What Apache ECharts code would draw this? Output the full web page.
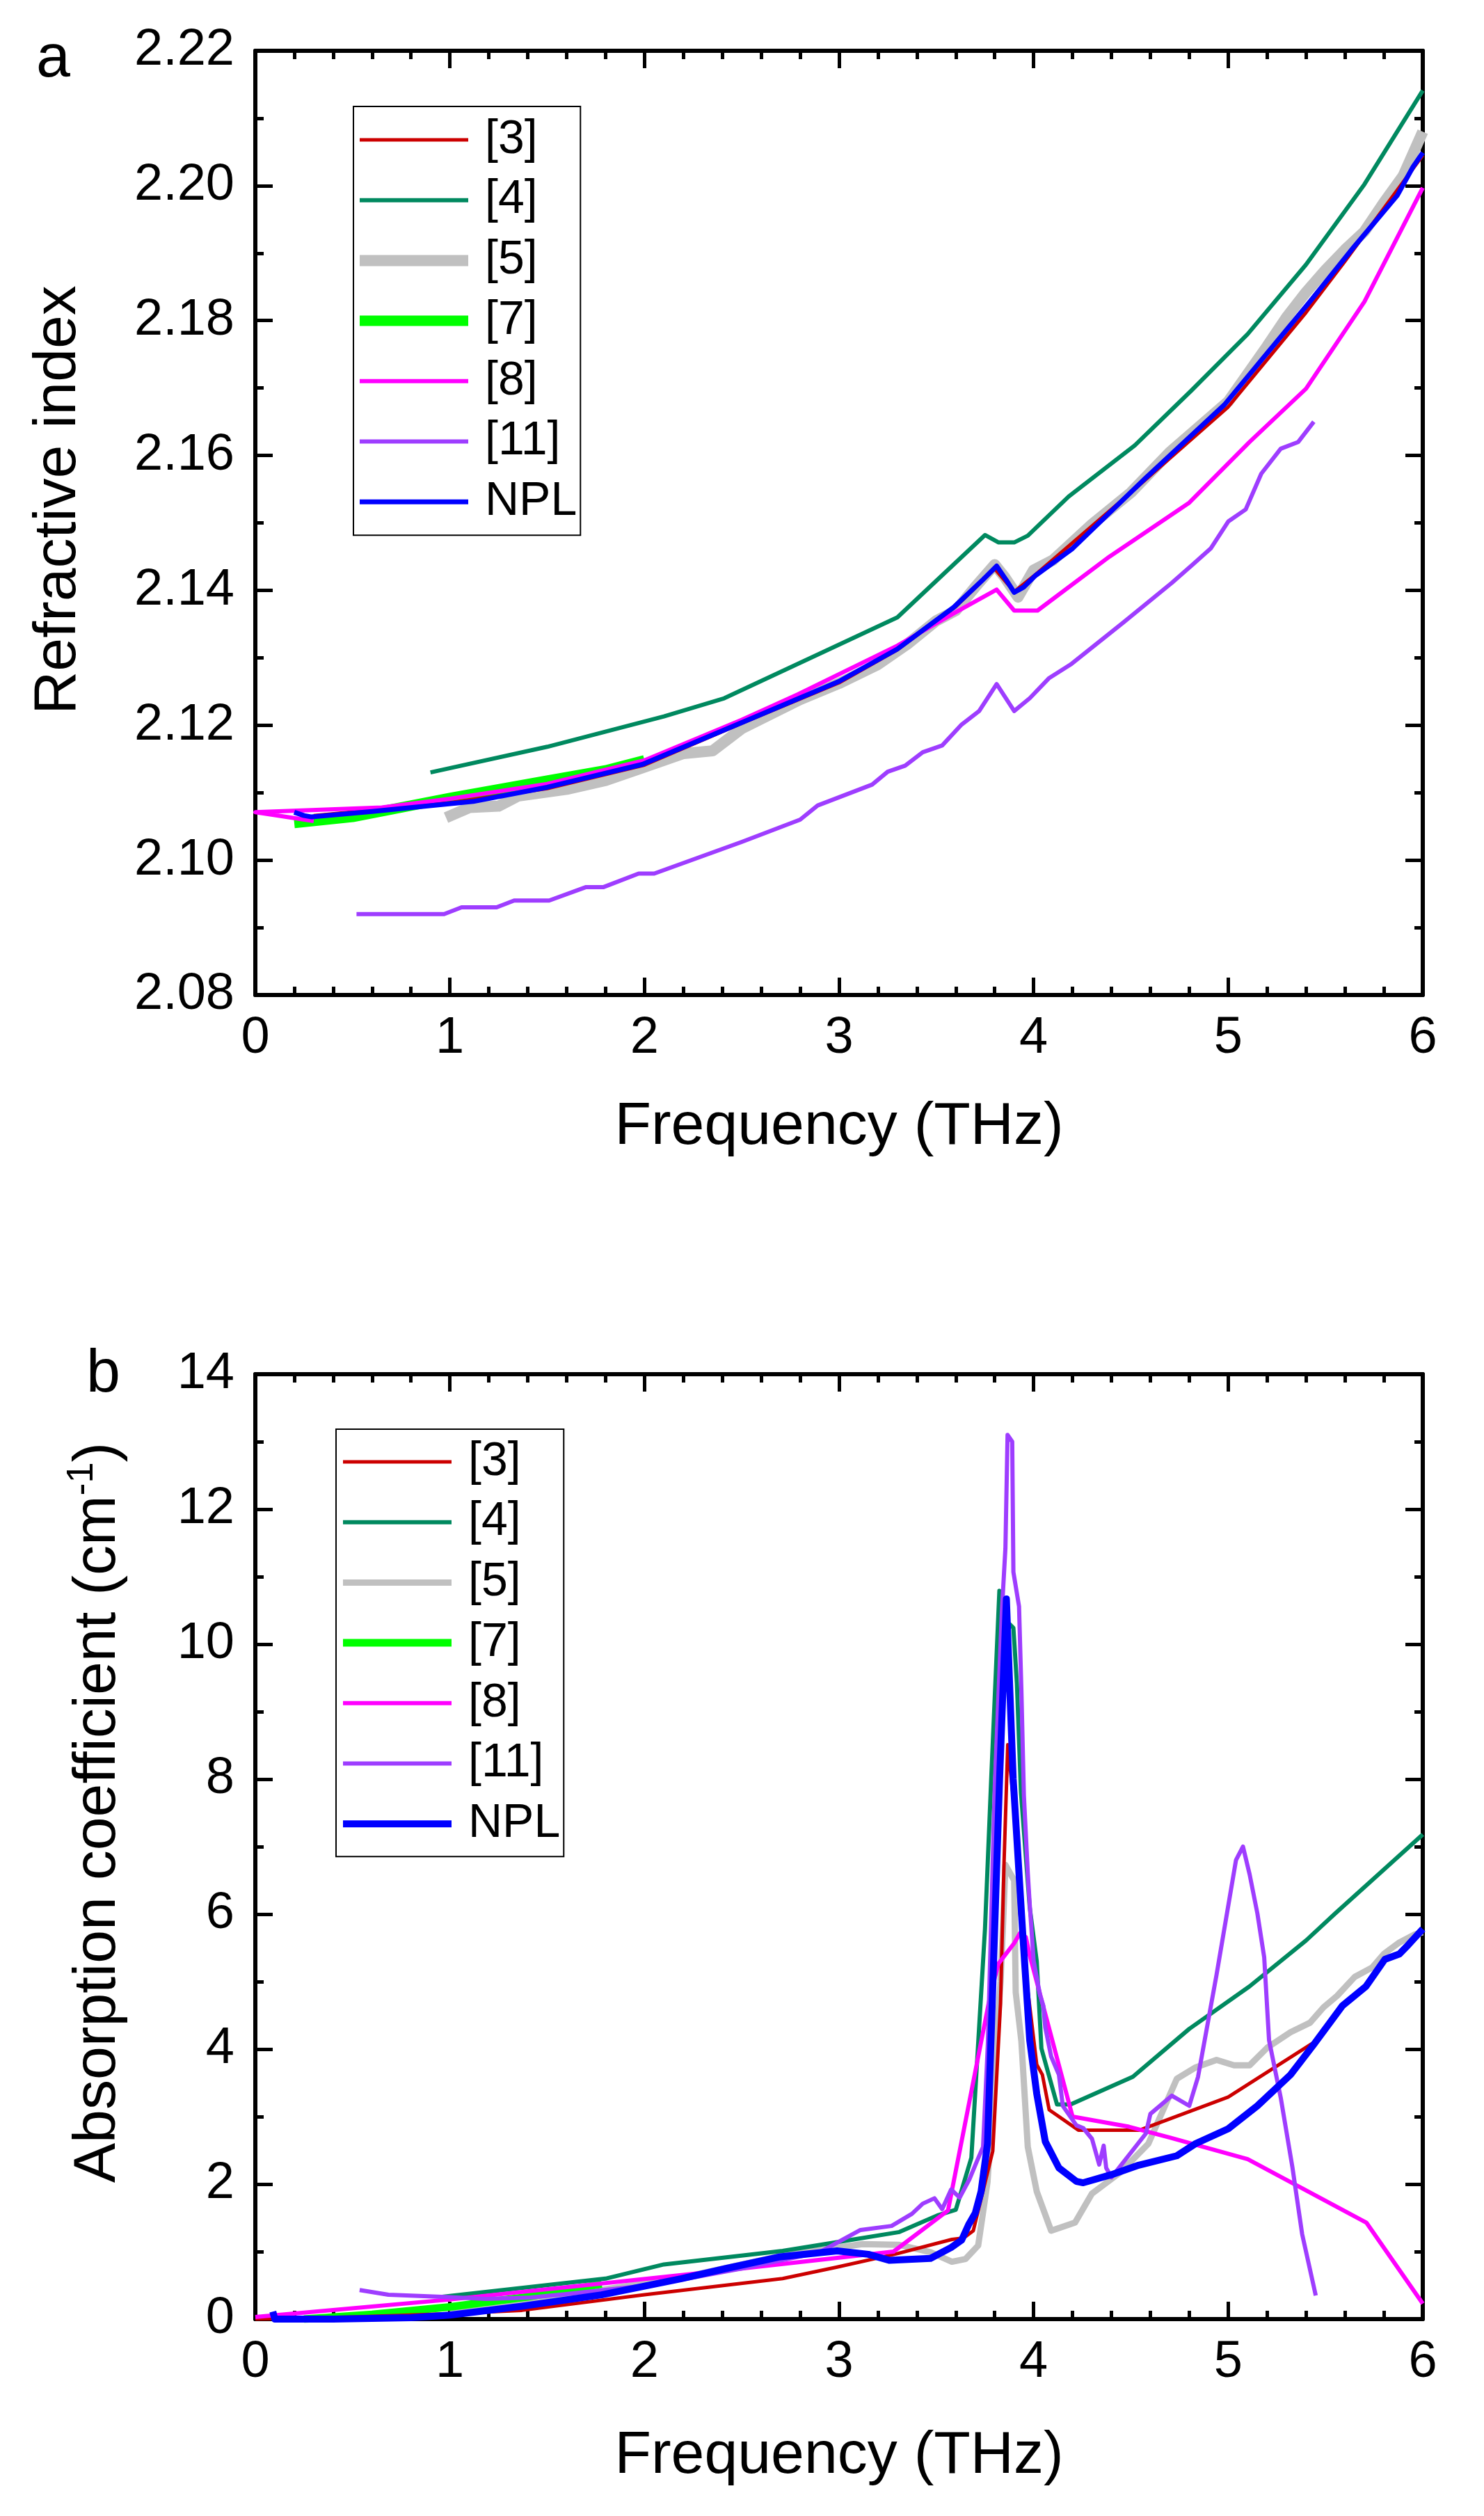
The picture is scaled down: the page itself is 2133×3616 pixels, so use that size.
<!DOCTYPE html>
<html>
<head>
<meta charset="utf-8">
<script src="https://cdn.jsdelivr.net/npm/echarts@6/dist/echarts.min.js"></script>
<style>
html,body{margin:0;padding:0;background:#fff;}
#chart{width:2133px;height:3616px;}
</style>
</head>
<body>
<div id="chart"></div>
<script>
// ---------- DATA ----------
var seriesNames = ['[3]', '[4]', '[5]', '[7]', '[8]', '[11]', 'NPL'];
var freqRange = [0, 6, 1];          // min, max, interval (THz)
var indexRange = [2.08, 2.22, 0.02];
var absRange = [0, 14, 2];

// Panel a : refractive index  [frequency THz, n]
var a_ref3 = [[0.3,2.1066],[1.0,2.1085],[1.5,2.1106],[2.0,2.1141],[2.5,2.1203],[3.0,2.1263],[3.3,2.1312],[3.6,2.1376],[3.8,2.1432],[3.9,2.1398],[4.0,2.1421],[4.5,2.1545],[5.0,2.1672],[5.4,2.1812],[5.6,2.1888],[6.0,2.2045]];
var a_ref4 = [[0.9,2.113],[1.5,2.1168],[2.1,2.1213],[2.41,2.124],[3.3,2.136],[3.75,2.1482],[3.82,2.1471],[3.9,2.1471],[3.97,2.1481],[4.18,2.1539],[4.52,2.1615],[4.81,2.1696],[5.1,2.178],[5.4,2.1883],[5.7,2.2002],[6.0,2.2141]];
var a_ref5 = [[0.98,2.1063],[1.1,2.1078],[1.25,2.108],[1.35,2.1095],[1.6,2.1105],[1.8,2.1118],[2.0,2.1138],[2.2,2.1158],[2.35,2.1162],[2.5,2.1195],[2.8,2.1238],[3.0,2.1262],[3.2,2.129],[3.35,2.132],[3.5,2.1355],[3.6,2.137],[3.7,2.1405],[3.8,2.1438],[3.85,2.142],[3.92,2.139],[4.0,2.143],[4.1,2.1445],[4.3,2.1498],[4.5,2.1545],[4.7,2.1605],[4.9,2.1655],[5.0,2.168],[5.2,2.1762],[5.3,2.1805],[5.4,2.1842],[5.5,2.1875],[5.6,2.1905],[5.7,2.1932],[5.8,2.1975],[5.9,2.2015],[6.0,2.208]];
var a_ref7 = [[0.2,2.1055],[0.5,2.1064],[1.0,2.1092],[1.5,2.1118],[1.8,2.1133],[2.0,2.1148]];
var a_ref8 = [[0.3,2.1058],[0,2.1071],[0.65,2.1078],[1.0,2.1091],[1.5,2.1113],[2.0,2.1148],[2.5,2.1208],[2.79,2.1246],[3.3,2.1318],[3.59,2.1366],[3.81,2.1401],[3.9,2.137],[4.02,2.137],[4.39,2.145],[4.8,2.153],[5.11,2.162],[5.4,2.1699],[5.7,2.1828],[6.0,2.1997]];
var a_ref11 = [[0.52,2.092],[0.97,2.092],[1.06,2.093],[1.24,2.093],[1.33,2.094],[1.51,2.094],[1.7,2.096],[1.79,2.096],[1.97,2.098],[2.05,2.098],[2.5,2.1027],[2.8,2.106],[2.89,2.1081],[3.17,2.1112],[3.25,2.1131],[3.34,2.114],[3.43,2.116],[3.53,2.117],[3.63,2.1201],[3.72,2.1221],[3.81,2.1261],[3.9,2.1221],[3.98,2.124],[4.08,2.127],[4.19,2.129],[4.46,2.1352],[4.71,2.1411],[4.82,2.1439],[4.91,2.1462],[5.0,2.1502],[5.09,2.152],[5.17,2.1573],[5.27,2.161],[5.36,2.162],[5.44,2.165]];
var a_npl = [[0.2,2.1071],[0.25,2.1066],[0.29,2.1064],[0.6,2.1072],[1.12,2.1087],[1.5,2.1108],[1.99,2.1142],[2.5,2.1204],[3.0,2.1265],[3.3,2.1313],[3.59,2.1375],[3.74,2.1416],[3.81,2.1436],[3.86,2.1415],[3.9,2.1397],[3.95,2.1405],[4.01,2.1422],[4.2,2.1462],[4.57,2.1565],[4.98,2.1675],[5.42,2.1828],[5.64,2.1907],[5.87,2.1986],[5.95,2.2028],[6.0,2.2049]];

// Panel b : absorption coefficient [frequency THz, cm^-1]
var b_ref3 = [[0,0],[0.5,0.03],[1.0,0.08],[1.37,0.13],[2.0,0.36],[2.71,0.6],[2.99,0.77],[3.3,0.97],[3.58,1.18],[3.64,1.2],[3.69,1.31],[3.79,2.49],[3.83,4.68],[3.848,6.77],[3.867,8.51],[3.9,7.59],[3.93,6.0],[3.97,4.87],[4.016,3.77],[4.045,3.62],[4.08,3.1],[4.23,2.8],[4.545,2.8],[5.0,3.29],[5.44,4.1]];
var b_ref4 = [[0.96,0.33],[1.8,0.6],[2.1,0.81],[2.71,1.01],[3.01,1.15],[3.31,1.29],[3.51,1.54],[3.6,1.62],[3.68,2.39],[3.75,5.78],[3.783,8.07],[3.824,10.79],[3.84,10.4],[3.896,10.24],[3.914,9.42],[3.935,7.8],[3.98,6.1],[4.016,5.3],[4.04,4.01],[4.12,3.18],[4.19,3.18],[4.51,3.59],[4.8,4.3],[5.11,4.93],[5.4,5.61],[5.55,6.01],[6.0,7.18]];
var b_ref5 = [[1.0,0.1],[1.73,0.41],[2.2,0.62],[2.74,0.96],[3.12,1.11],[3.31,1.1],[3.47,0.99],[3.58,0.85],[3.65,0.89],[3.715,1.09],[3.763,2.03],[3.8,3.73],[3.83,5.0],[3.843,5.86],[3.855,6.73],[3.9,6.5],[3.908,4.84],[3.937,4.12],[3.97,2.55],[4.016,1.89],[4.09,1.31],[4.213,1.43],[4.3,1.86],[4.444,2.17],[4.59,2.6],[4.736,3.56],[4.833,3.73],[4.94,3.84],[5.03,3.76],[5.11,3.76],[5.2,4.02],[5.32,4.25],[5.42,4.39],[5.49,4.62],[5.56,4.79],[5.65,5.07],[5.74,5.21],[5.8,5.41],[5.88,5.58],[5.96,5.7],[6.0,5.73]];
var b_ref7 = [[0.25,0.0],[0.6,0.07],[1.0,0.18],[1.4,0.33],[1.78,0.52]];
var b_ref8 = [[0,0.03],[1.0,0.29],[2.35,0.7],[3.28,1.0],[3.56,1.61],[3.78,4.84],[3.82,5.27],[3.9,5.57],[3.93,5.72],[3.96,5.66],[3.98,5.39],[4.2,3.0],[4.49,2.85],[4.7,2.69],[5.1,2.37],[5.71,1.43],[6.0,0.23]];
var b_ref11 = [[0.536,0.43],[0.684,0.36],[0.958,0.33],[1.186,0.3],[1.414,0.32],[1.6,0.37],[2.05,0.51],[2.5,0.75],[2.9,0.99],[3.11,1.32],[3.27,1.38],[3.375,1.56],[3.43,1.71],[3.49,1.79],[3.53,1.63],[3.576,1.92],[3.62,1.8],[3.67,2.07],[3.71,2.35],[3.74,2.55],[3.765,4.09],[3.8,7.87],[3.837,10.5],[3.855,11.42],[3.866,13.1],[3.89,13.0],[3.896,11.07],[3.925,10.56],[3.937,9.33],[3.95,7.76],[3.97,6.61],[3.98,6.14],[4.0,5.31],[4.033,4.8],[4.05,4.64],[4.06,4.32],[4.09,3.89],[4.13,3.62],[4.15,3.16],[4.22,2.87],[4.255,2.83],[4.3,2.67],[4.337,2.29],[4.36,2.57],[4.373,2.24],[4.4,2.1],[4.577,2.75],[4.6,3.04],[4.71,3.31],[4.8,3.16],[4.845,3.59],[4.94,5.1],[5.04,6.8],[5.076,7.0],[5.11,6.59],[5.15,6.01],[5.185,5.36],[5.21,4.13],[5.27,3.28],[5.33,2.25],[5.38,1.26],[5.45,0.35]];
var b_npl = [[0.09,0.11],[0.1,0.0],[0.4,0.0],[0.8,0.02],[1.0,0.06],[1.37,0.19],[1.78,0.36],[2.19,0.6],[2.42,0.75],[2.69,0.92],[2.99,1.01],[3.15,0.96],[3.26,0.87],[3.47,0.9],[3.576,1.06],[3.63,1.17],[3.666,1.4],[3.7,1.57],[3.73,1.89],[3.763,2.6],[3.79,4.92],[3.825,8.0],[3.86,10.67],[3.895,8.0],[3.944,5.71],[3.98,4.13],[4.016,3.34],[4.06,2.63],[4.13,2.24],[4.22,2.04],[4.255,2.02],[4.4,2.14],[4.54,2.28],[4.736,2.42],[4.833,2.6],[5.0,2.82],[5.15,3.16],[5.32,3.62],[5.44,4.07],[5.586,4.64],[5.708,4.93],[5.805,5.33],[5.88,5.41],[5.927,5.55],[6.0,5.78]];

// ---------- STYLE ----------
var FONT = 'Liberation Sans';
var colors = {'[3]':'#CC0000','[4]':'#00895F','[5]':'#C0C0C0','[7]':'#00FF00','[8]':'#FF00FF','[11]':'#9E3DFF','NPL':'#0000FF'};
var widthsA = {'[3]':5,'[4]':6,'[5]':16,'[7]':15,'[8]':6,'[11]':6,'NPL':7};
var widthsB = {'[3]':5,'[4]':6,'[5]':9,'[7]':11,'[8]':6,'[11]':6,'NPL':10};
var dataA = {'[3]':a_ref3,'[4]':a_ref4,'[5]':a_ref5,'[7]':a_ref7,'[8]':a_ref8,'[11]':a_ref11,'NPL':a_npl};
var dataB = {'[3]':b_ref3,'[4]':b_ref4,'[5]':b_ref5,'[7]':b_ref7,'[8]':b_ref8,'[11]':b_ref11,'NPL':b_npl};
var drawOrder = ['[5]','[7]','[3]','[4]','[8]','[11]','NPL'];

var chart = echarts.init(document.getElementById('chart'), null, {renderer:'canvas', width:2133, height:3616});

function axisCommon(){
  return {
    axisLine:{show:true, onZero:false, lineStyle:{color:'#000', width:6}},
    axisTick:{show:true, inside:true, length:25, lineStyle:{color:'#000', width:5}},
    minorTick:{show:true, length:12, lineStyle:{color:'#000', width:5}},
    splitLine:{show:false},
    axisLabel:{show:true, color:'#000', fontFamily:FONT, fontSize:74}
  };
}
function xAxisDef(grid, pos, showLabel, gap){
  var ax = axisCommon();
  ax.type = 'value'; ax.gridIndex = grid; ax.position = pos;
  ax.min = freqRange[0]; ax.max = freqRange[1]; ax.interval = freqRange[2];
  ax.minorTick.splitNumber = 5;
  ax.axisLabel.show = showLabel; ax.axisLabel.margin = 26;
  if (showLabel){
    ax.name = 'Frequency (THz)'; ax.nameLocation = 'middle'; ax.nameGap = gap;
    ax.nameTextStyle = {color:'#000', fontFamily:FONT, fontSize:86};
  }
  return ax;
}
function yAxisDef(grid, pos, showLabel, range, fmt){
  var ax = axisCommon();
  ax.type = 'value'; ax.gridIndex = grid; ax.position = pos;
  ax.min = range[0]; ax.max = range[1]; ax.interval = range[2];
  ax.minorTick.splitNumber = 2;
  ax.axisLabel.show = showLabel; ax.axisLabel.margin = 30;
  if (fmt) ax.axisLabel.formatter = fmt;
  return ax;
}

var yA = yAxisDef(0, 'left', true, indexRange, function(v){return v.toFixed(2);});
yA.name = 'Refractive index'; yA.nameLocation = 'middle'; yA.nameGap = 240;
yA.nameTextStyle = {color:'#000', fontFamily:FONT, fontSize:86, padding:[0,0,0,66]};
var yB = yAxisDef(1, 'left', true, absRange, function(v){return String(Math.round(v));});
yB.name = '{a|Absorption coefficient (cm}{s|-1}{a|)}'; yB.nameLocation = 'middle'; yB.nameGap = 176;
yB.nameTextStyle = {color:'#000', padding:[0,0,0,98], rich:{
  a:{fontFamily:FONT, fontSize:86, color:'#000', lineHeight:100},
  s:{fontFamily:FONT, fontSize:54, color:'#000', lineHeight:60, verticalAlign:'top'}
}};

var series = [];
function addSeries(dataMap, widths, xi, yi){
  drawOrder.forEach(function(name){
    series.push({
      type:'line', name:name, xAxisIndex:xi, yAxisIndex:yi,
      data:dataMap[name], showSymbol:false, symbol:'none', smooth:false,
      color:colors[name], itemStyle:{color:colors[name]},
      lineStyle:{color:colors[name], width:widths[name], join:'round', cap:'butt'},
      clip:true, animation:false, z: 3
    });
  });
}
addSeries(dataA, widthsA, 0, 0);
addSeries(dataB, widthsB, 2, 2);

function legendDef(left, top, widths, padding){
  return {
    orient:'vertical', left:left, top:top, padding:padding,
    itemWidth:156, itemHeight:20, itemGap:16.7,
    borderColor:'#000', borderWidth:2, backgroundColor:'#fff',
    symbolKeepAspect:true,
    itemStyle:{borderWidth:0},
    textStyle:{color:'#000', fontFamily:FONT, fontSize:68, lineHeight:70, padding:[0,0,0,19]},
    data: seriesNames.map(function(n){
      var t = widths[n];
      return {name:n, icon:'path://M0,0H156V' + t + 'H0Z', itemStyle:{color:colors[n], borderWidth:0}};
    })
  };
}

var option = {
  backgroundColor:'#fff',
  animation:false,
  grid:[
    {left:367, top:73, width:1678, height:1357, containLabel:false},
    {left:367, top:1975, width:1678, height:1358, containLabel:false}
  ],
  xAxis:[
    xAxisDef(0,'bottom',true,147),
    xAxisDef(0,'top',false,0),
    xAxisDef(1,'bottom',true,154),
    xAxisDef(1,'top',false,0)
  ],
  yAxis:[
    yA,
    yAxisDef(0,'right',false,indexRange),
    yB,
    yAxisDef(1,'right',false,absRange)
  ],
  legend:[
    legendDef(508, 153, widthsA, [13,5,13,9]),
    legendDef(483, 2054, widthsB, [12,5,12,10])
  ],
  graphic:[
    {type:'text', left:52, top:42, style:{text:'a', font:'88px "Liberation Sans"', fill:'#000'}},
    {type:'text', left:124, top:1932, style:{text:'b', font:'88px "Liberation Sans"', fill:'#000'}}
  ],
  series:series
};
chart.setOption(option);
</script>
</body>
</html>
